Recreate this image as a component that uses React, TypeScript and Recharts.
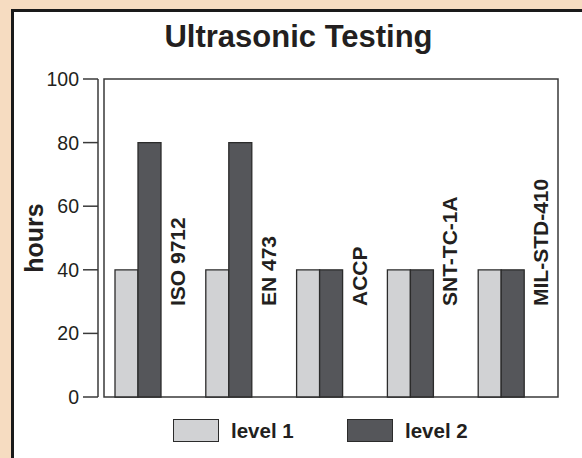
import React from 'react';
import { BarChart, Bar, XAxis, YAxis, LabelList, ReferenceArea } from 'recharts';

const categories = ['ISO 9712', 'EN 473', 'ACCP', 'SNT-TC-1A', 'MIL-STD-410'];
const level1 = [40, 40, 40, 40, 40];
const level2 = [80, 80, 40, 40, 40];
const labelSlot = [0, 0, 0, 0, 0];
const yTicks = [0, 20, 40, 60, 80, 100];
const seriesNames = ['level 1', 'level 2'];
const seriesColors = ['#D1D2D4', '#55565A'];

const data = categories.map((name, i) => ({
  name,
  l1: level1[i],
  l2: level2[i],
  slot: labelSlot[i],
}));

const FONT = '"Liberation Sans", Arial, Helvetica, sans-serif';
const INK = '#231F20';
const STROKE = '#2B2B2B';
const AXIS = '#3A3A3A';

const CatLabel = (props: any) => {
  const { x, y, width, height, value } = props;
  const bx = x + width * 1.5 + 12.5;
  const by = y + height - 91;
  return (
    <text
      x={bx}
      y={by}
      transform={`rotate(-90, ${bx}, ${by})`}
      textAnchor="start"
      fontFamily={FONT}
      fontWeight="bold"
      fontSize={21}
      fill={INK}
    >
      {value}
    </text>
  );
};

const HoursLabel = (props: any) => {
  const vb = props.viewBox || {};
  const cx = 43;
  const cy = vb.y + vb.height / 2;
  return (
    <text
      x={cx}
      y={cy}
      transform={`rotate(-90, ${cx}, ${cy})`}
      textAnchor="middle"
      fontFamily={FONT}
      fontWeight="bold"
      fontSize={25}
      fill={INK}
    >
      hours
    </text>
  );
};

export default function App() {
  return (
    <div
      style={{
        position: 'fixed',
        left: 0,
        top: 0,
        width: 582,
        height: 458,
        overflow: 'hidden',
        background: '#F6DCC1',
        fontFamily: FONT,
      }}
    >
      <div
        style={{
          position: 'absolute',
          left: 11,
          top: 9,
          width: 600,
          height: 480,
          background: '#FFFFFF',
          borderLeft: '3px solid #1A1A1A',
          borderTop: '3px solid #1A1A1A',
        }}
      />
      <div
        style={{
          position: 'absolute',
          left: 0,
          top: 19,
          width: 597,
          textAlign: 'center',
          fontSize: 31,
          fontWeight: 'bold',
          color: INK,
          lineHeight: '36px',
        }}
      >
        Ultrasonic Testing
      </div>
      <div style={{ position: 'absolute', left: 0, top: 0 }}>
        <BarChart
          width={582}
          height={458}
          data={data}
          margin={{ top: 79, right: 18, bottom: 61, left: 0 }}
          barSize={23}
          barGap={0}
        >
          <XAxis
            dataKey="name"
            height={0}
            tick={false}
            tickLine={false}
            padding={{ left: 6, right: 6 }}
            axisLine={{ stroke: AXIS, strokeWidth: 1.5 }}
          />
          <YAxis
            width={98}
            domain={[0, 100]}
            ticks={yTicks}
            interval={0}
            tickSize={15}
            tickMargin={4}
            fontSize={19.5}
            tick={{ fontSize: 19.5, fill: INK, fontFamily: FONT }}
            tickLine={{ stroke: AXIS, strokeWidth: 1.5 }}
            axisLine={{ stroke: AXIS, strokeWidth: 1.5 }}
            label={<HoursLabel />}
          />
          <ReferenceArea
            y1={0}
            y2={100}
            fill="none"
            stroke={AXIS}
            strokeWidth={1.5}
            ifOverflow="visible"
          />
          <Bar dataKey="l1" name={seriesNames[0]} fill={seriesColors[0]} stroke={STROKE} strokeWidth={1.3} isAnimationActive={false} />
          <Bar dataKey="l2" name={seriesNames[1]} fill={seriesColors[1]} stroke={STROKE} strokeWidth={1.3} isAnimationActive={false}>
            <LabelList dataKey="name" content={<CatLabel />} />
          </Bar>
          <Bar dataKey="slot" fill="none" stroke="none" isAnimationActive={false} />
        </BarChart>
      </div>
      {seriesNames.map((n, i) => (
        <div key={n}>
          <div
            style={{
              position: 'absolute',
              left: i === 0 ? 173 : 347,
              top: 419,
              width: 44,
              height: 21,
              background: seriesColors[i],
              border: `1.5px solid ${STROKE}`,
            }}
          />
          <div
            style={{
              position: 'absolute',
              left: i === 0 ? 231 : 405,
              top: 419,
              fontSize: 20.5,
              fontWeight: 'bold',
              color: INK,
              lineHeight: '24px',
              whiteSpace: 'nowrap',
            }}
          >
            {n}
          </div>
        </div>
      ))}
    </div>
  );
}
